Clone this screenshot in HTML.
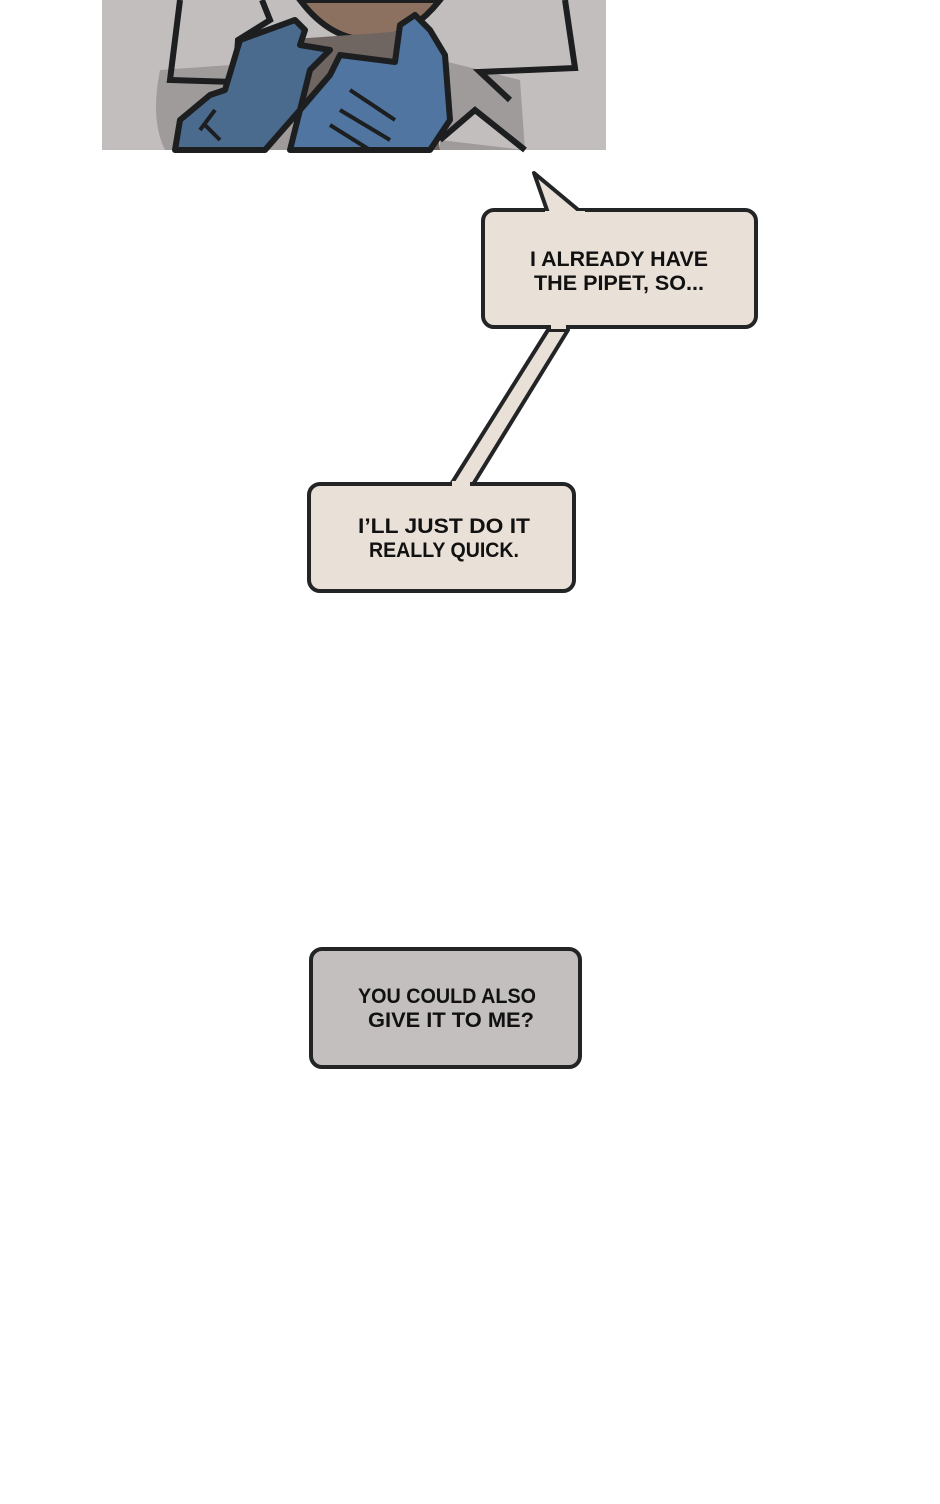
<!DOCTYPE html>
<html><head><meta charset="utf-8"><style>
html,body{margin:0;padding:0;background:#fff;width:940px;height:1504px;overflow:hidden}
svg{display:block}
text{font-family:"Liberation Sans",sans-serif;font-size:21px;fill:#111;text-anchor:middle;font-weight:bold}
</style></head><body>
<svg width="940" height="1504" viewBox="0 0 940 1504">
<rect x="102" y="0" width="504" height="150" fill="#c3bebe"/>
<path d="M160 70 Q150 120 165 150 L300 150 L300 60 Z" fill="#a09b9b"/>
<path d="M440 60 L520 80 L525 150 L440 150 Z" fill="#a09b9b"/>
<path d="M300 0 Q330 40 370 40 Q410 38 440 0 Z" fill="#8c7160" stroke="#1c1e20" stroke-width="6"/>
<path d="M280 40 L300 150 L440 150 L420 30 Z" fill="#6f6661"/>
<path d="M180 0 L170 80 L235 82 L238 40 L270 20 L262 0" fill="none" stroke="#1c1e20" stroke-width="6"/>
<path d="M565 0 L575 68 L480 72 L510 100" fill="none" stroke="#1c1e20" stroke-width="6"/>
<path d="M440 140 L475 110 L525 150" fill="#c3bebe" stroke="#1c1e20" stroke-width="6"/>
<path d="M175 150 L180 120 L210 95 L225 90 L240 40 L295 20 L305 30 L300 45 L330 50 L310 70 L300 110 L265 150 Z" fill="#4a6b8d" stroke="#1c1e20" stroke-width="6" stroke-linejoin="round"/>
<path d="M290 150 L300 110 L330 75 L340 55 L395 62 L400 25 L415 15 L430 30 L445 55 L450 120 L430 150 Z" fill="#4f75a0" stroke="#1c1e20" stroke-width="6" stroke-linejoin="round"/>
<path d="M340 110 L390 140 M330 125 L370 150 M350 90 L395 120" stroke="#1c1e20" stroke-width="4"/>
<path d="M205 125 L220 140 M200 130 L215 110" stroke="#1c1e20" stroke-width="4"/>

<path d="M548 330 L568 330 L472 486 L450 486 Z" fill="#e9e0d8" stroke="#222426" stroke-width="4" stroke-linejoin="round"/>
<rect x="483" y="210" width="273" height="117" rx="11" fill="#e9e0d8" stroke="#222426" stroke-width="4"/>
<path d="M548 213 L534 173 L582 213" fill="#e9e0d8" stroke="#222426" stroke-width="4" stroke-linejoin="round"/>
<rect x="545" y="211" width="40" height="6" fill="#e9e0d8"/>
<rect x="551" y="322" width="15" height="7" fill="#e9e0d8"/>
<text x="619" y="266" textLength="178" lengthAdjust="spacingAndGlyphs">I ALREADY HAVE</text>
<text x="619" y="290" textLength="170" lengthAdjust="spacingAndGlyphs">THE PIPET, SO...</text>

<rect x="309" y="484" width="265" height="107" rx="11" fill="#e9e0d8" stroke="#222426" stroke-width="4"/>
<rect x="452" y="481" width="18" height="7" fill="#e9e0d8"/>
<text x="444" y="533" textLength="172" lengthAdjust="spacingAndGlyphs">I’LL JUST DO IT</text>
<text x="444" y="557" textLength="150" lengthAdjust="spacingAndGlyphs">REALLY QUICK.</text>

<rect x="311" y="949" width="269" height="118" rx="11" fill="#c2bfbe" stroke="#222426" stroke-width="4"/>
<text x="447" y="1003" textLength="178" lengthAdjust="spacingAndGlyphs">YOU COULD ALSO</text>
<text x="451" y="1027" textLength="166" lengthAdjust="spacingAndGlyphs">GIVE IT TO ME?</text>
</svg>
</body></html>
